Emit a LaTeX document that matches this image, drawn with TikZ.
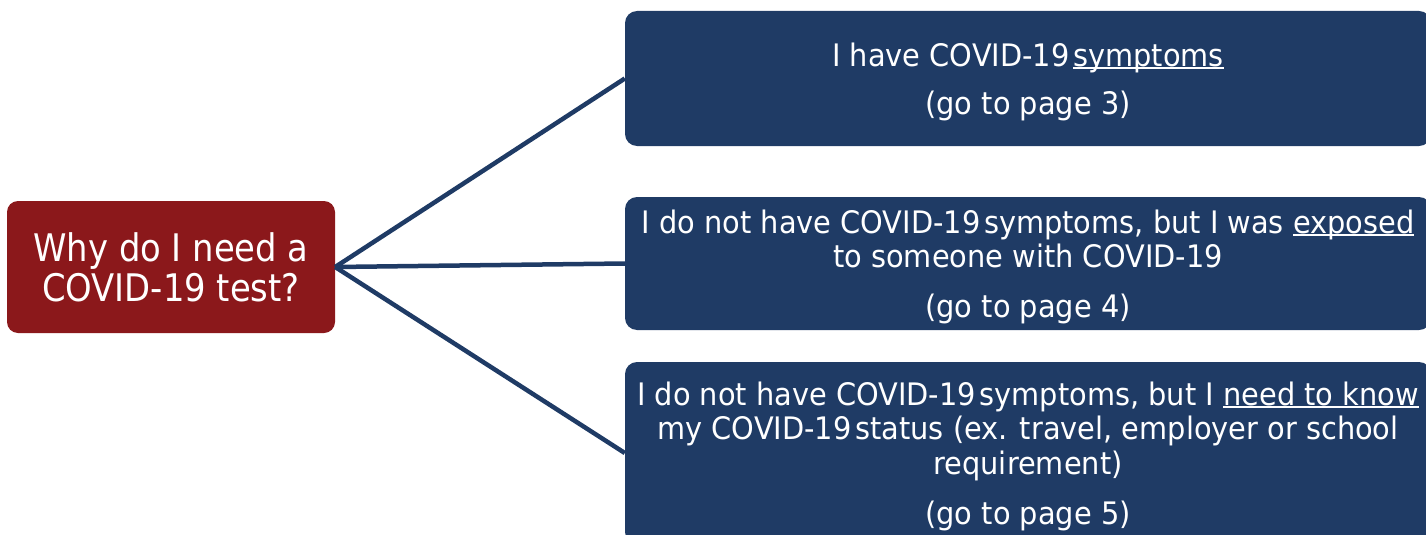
\documentclass[tikz,border=0pt]{standalone}
\usepackage{fontspec}
\newfontfamily\bluefont{DejaVu Sans}[FakeStretch=0.93]
\newfontfamily\redfont{DejaVu Sans}[FakeStretch=0.89]
\definecolor{qred}{RGB}{139,24,27}
\definecolor{qblue}{RGB}{31,59,101}
\newcommand\myul[1]{\setbox0\hbox{#1}\rlap{\rule[-0.09em]{\wd0}{0.055em}}\box0}
\newcommand\ns{\hspace{0.12em}}
\newcommand\dn{\rule{0pt}{30pt}}
\begin{document}
\begin{tikzpicture}[x=1pt,y=-1pt,
  qbox/.style={draw=none, fill=qblue, rounded corners=12pt, minimum width=806pt, inner sep=0pt,
     text=white, align=center, font=\bluefont\fontsize{31}{34.5}\selectfont},
  rbox/.style={fill=qred, rounded corners=11pt, minimum width=328pt, minimum height=132pt, inner sep=0pt,
     text=white, align=center, font=\redfont\fontsize{38}{40}\selectfont},
  conn/.style={draw=qblue, line width=4.5pt}]
\useasboundingbox (0,0) rectangle (1426,535);
\node[rbox] (q) at (171,267) {Why do I need a\\COVID-19 test?};
\node[qbox, minimum height=135pt] (b1) at (1028,78.5) {\dn I have COVID-19\ns\myul{symptoms}\\[13.5pt](go to page 3)};
\node[qbox, minimum height=133pt] (b2) at (1028,263.5) {\dn I do not have COVID-19\ns symptoms, but I was \myul{exposed}\\to someone with COVID-19\\[15.5pt](go to page 4)};
\node[qbox, minimum height=182pt] (b3) at (1028,453) {\dn I do not have COVID-19\ns symptoms, but I \myul{need to know}\\my COVID-19\ns status (ex. travel, employer or school\\requirement)\\[15.5pt](go to page 5)};
\draw[conn] (q.east) -- (b1.west);
\draw[conn] (q.east) -- (b2.west);
\draw[conn] (q.east) -- (b3.west);
\end{tikzpicture}
\end{document}
